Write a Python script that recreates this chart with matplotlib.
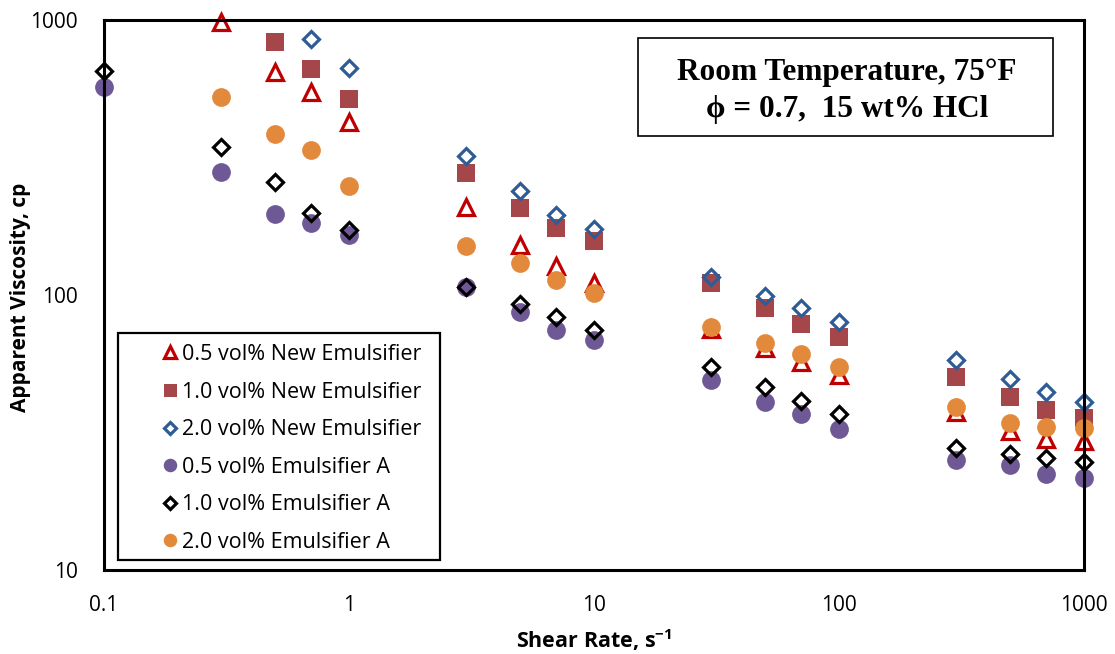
import numpy as np
import matplotlib
matplotlib.use("Agg")
import matplotlib.pyplot as plt
from matplotlib.patches import Rectangle

plt.rcParams['font.family'] = ['Open Sans', 'DejaVu Sans']
plt.rcParams['mathtext.fontset'] = 'custom'
plt.rcParams['mathtext.rm'] = 'Open Sans'
plt.rcParams['mathtext.bf'] = 'Open Sans:bold'

# shear rates (1/s)
rate_new05 = [0.3, 0.5, 0.7, 1, 3, 5, 7, 10, 30, 50, 70, 100, 300, 500, 700, 1000]
rate_new10 = [0.5, 0.7, 1, 3, 5, 7, 10, 30, 50, 70, 100, 300, 500, 700, 1000]
rate_new20 = [0.7, 1, 3, 5, 7, 10, 30, 50, 70, 100, 300, 500, 700, 1000]
rate_a05 = [0.1, 0.3, 0.5, 0.7, 1, 3, 5, 7, 10, 30, 50, 70, 100, 300, 500, 700, 1000]
rate_a10 = [0.1, 0.3, 0.5, 0.7, 1, 3, 5, 7, 10, 30, 50, 70, 100, 300, 500, 700, 1000]
rate_a20 = [0.3, 0.5, 0.7, 1, 3, 5, 7, 10, 30, 50, 70, 100, 300, 500, 700, 1000]

# apparent viscosity (cp)
visc_new05 = [980, 647, 547, 425, 209, 152, 127, 111, 75, 64, 57, 51, 37.5, 32, 30, 29.5]
visc_new10 = [832, 663, 516, 278, 207, 175, 157, 111, 90, 78.5, 70.5, 50.5, 42.5, 38.2, 35.7]
visc_new20 = [853, 669, 320, 239, 195, 174, 116, 99, 90, 80, 58, 49.5, 44.4, 40.8]
visc_a05 = [570, 280, 197, 183, 165, 107, 86.6, 74.6, 68.6, 49.1, 40.8, 36.9, 32.6, 25.1, 24.1, 22.4, 21.6]
visc_a10 = [653, 345, 258, 199, 172, 107, 92.7, 83.2, 74.6, 54.7, 46.2, 41.2, 36.9, 27.8, 26.4, 25.6, 24.7]
visc_a20 = [525, 385, 336, 249, 151, 131, 113.5, 102, 76.6, 67, 61, 54.7, 39.2, 34.3, 33.1, 32.8]

labels = ['0.5 vol% New Emulsifier', '1.0 vol% New Emulsifier', '2.0 vol% New Emulsifier',
          '0.5 vol% Emulsifier A', '1.0 vol% Emulsifier A', '2.0 vol% Emulsifier A']

xticks = [0.1, 1, 10, 100, 1000]
xtick_labels = ['0.1', '1', '10', '100', '1000']
yticks = [10, 100, 1000]
ytick_labels = ['10', '100', '1000']

fig = plt.figure(figsize=(11.15, 6.54), dpi=100)
ax = fig.add_axes([0.0933, 0.1284, 0.879, 0.841])

ax.plot(rate_new05, visc_new05, ls='none', marker='^', ms=11.5, mfc='none', mec='#C00000', mew=2.3,
        label=labels[0], clip_on=False)
ax.plot(rate_new10, visc_new10, ls='none', marker='s', ms=13, color='#A5474A', mew=0,
        label=labels[1], clip_on=False)
ax.plot(rate_new20, visc_new20, ls='none', marker='D', ms=8.5, mfc='none', mec='#2F5C95', mew=2.3,
        label=labels[2], clip_on=False)
ax.plot(rate_a05, visc_a05, ls='none', marker='o', ms=13.5, color='#6F5896', mew=0,
        label=labels[3], clip_on=False)
ax.plot(rate_a10, visc_a10, ls='none', marker='D', ms=8.5, mfc='none', mec='black', mew=2.3,
        label=labels[4], clip_on=False)
ax.plot(rate_a20, visc_a20, ls='none', marker='o', ms=13.5, color='#E2893C', mew=0,
        label=labels[5], clip_on=False)

ax.set_xscale('log')
ax.set_yscale('log')
ax.set_xlim(0.1, 1000)
ax.set_ylim(10, 1000)
ax.set_xticks(xticks)
ax.set_xticklabels(xtick_labels)
ax.set_yticks(yticks)
ax.set_yticklabels(ytick_labels)
ax.minorticks_off()
ax.tick_params(axis='x', length=0, pad=18, labelsize=15)
ax.tick_params(axis='y', length=0, pad=19, labelsize=15)
for sp in ax.spines.values():
    sp.set_linewidth(2.2)
    sp.set_color('black')

fig.text(0.533, 0.021, r'Shear Rate, s$^{\mathbf{-1}}$', ha='center', va='center',
         fontsize=15.5, fontweight='bold')
fig.text(0.0188, 0.546, 'Apparent Viscosity, cp', ha='center', va='center',
         rotation=90, fontsize=15, fontweight='bold')

# legend with its own frame
ax.add_patch(Rectangle((0.0143, 0.0182), 0.3286, 0.4127, transform=ax.transAxes,
                       fill=False, ec='black', lw=1.6, zorder=5, clip_on=False))
ax.legend(loc='upper left', bbox_to_anchor=(0.0586, 0.411), frameon=False, fontsize=15.5,
          borderpad=0, borderaxespad=0, handlelength=0.8, handletextpad=0.15,
          labelspacing=0.77, markerscale=0.72)

# conditions box
ax.add_patch(Rectangle((0.545, 0.789), 0.4235, 0.178, transform=ax.transAxes,
                       fill=False, ec='black', lw=1.2, zorder=5))
serif = ['Liberation Serif', 'DejaVu Serif']
ax.text(0.758, 0.891, 'Room Temperature, 75°F', transform=ax.transAxes, ha='center', va='baseline',
        fontsize=22.5, fontweight='bold', family=serif)
ax.text(0.758, 0.8236, 'ϕ = 0.7,  15 wt% HCl', transform=ax.transAxes, ha='center', va='baseline',
        fontsize=22.5, fontweight='bold', family=serif)

fig.savefig('out.png', dpi=100)
